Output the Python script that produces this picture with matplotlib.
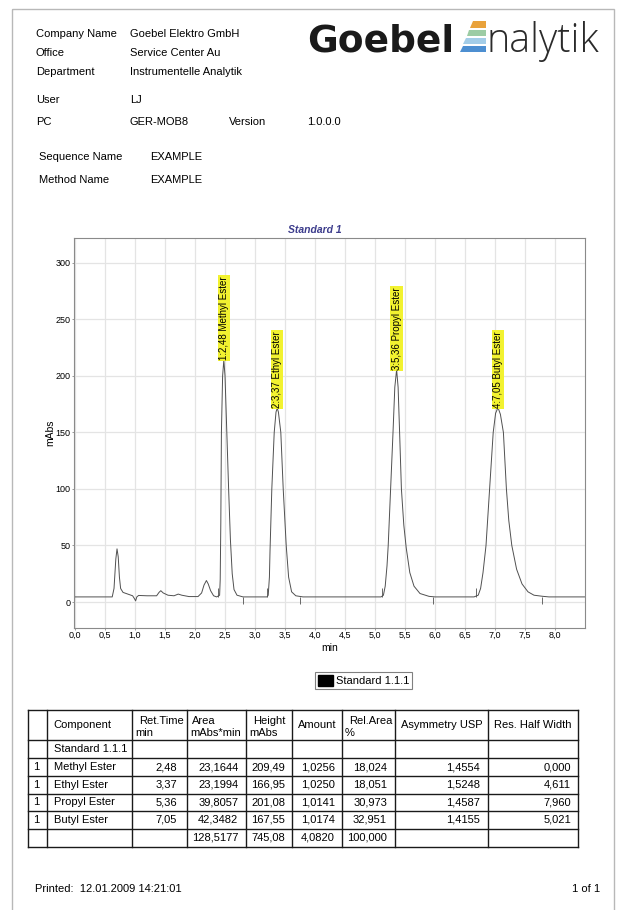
import matplotlib
matplotlib.use("Agg")
import matplotlib.pyplot as plt
from matplotlib.patches import Rectangle, Polygon, Patch
from matplotlib.ticker import FuncFormatter, FixedLocator
import numpy as np

plt.rcParams['font.family'] = ['Liberation Sans', 'DejaVu Sans']

# kopfdaten des reports
kopfLabels = ["Company Name", "Office", "Department", "User", "PC"]
kopfWerte = ["Goebel Elektro GmbH", "Service Center Au", "Instrumentelle Analytik", "LJ", "GER-MOB8"]
versionText = "1.0.0.0"
sequenzName = "EXAMPLE"
methodenName = "EXAMPLE"
chromTitel = "Standard 1"
probenName = "Standard 1.1.1"
gedrucktAm = "12.01.2009 14:21:01"

# chromatogramm, punkte (min, mAbs)
zeit = [0.00, 0.62, 0.65, 0.68, 0.70, 0.72, 0.74, 0.76, 0.80, 0.88, 0.96, 0.99, 1.01, 1.03, 1.06,
        1.20, 1.36, 1.40, 1.43, 1.47, 1.55, 1.65, 1.72, 1.78, 1.90, 2.05, 2.11, 2.15, 2.19, 2.22,
        2.26, 2.31, 2.36, 2.41, 2.42, 2.43, 2.44, 2.46, 2.48, 2.50, 2.53, 2.56, 2.59, 2.62, 2.65,
        2.70, 2.80, 3.20, 3.22, 3.24, 3.25, 3.28, 3.32, 3.35, 3.37, 3.39, 3.43, 3.47, 3.52, 3.56,
        3.61, 3.68, 3.80, 5.10, 5.14, 5.17, 5.20, 5.22, 5.26, 5.30, 5.33, 5.36, 5.385, 5.41, 5.44,
        5.48, 5.52, 5.58, 5.65, 5.75, 5.90, 6.00, 6.65, 6.72, 6.76, 6.80, 6.85, 6.91, 6.97, 7.01,
        7.05, 7.09, 7.14, 7.19, 7.23, 7.28, 7.36, 7.45, 7.55, 7.65, 7.80, 7.90, 8.50]
signal = [4.5, 4.5, 12, 38, 47, 40, 22, 12, 8.5, 7, 5.5, 3, 1, 4.5, 5.8,
          5.5, 5.5, 8.5, 10, 8, 6, 5.5, 7, 6, 4.8, 4.8, 8, 15, 19, 16,
          10, 5.5, 4.5, 6, 20, 70, 150, 200, 214, 200, 150, 100, 55, 25, 11,
          6, 4.5, 4.5, 6, 22, 45, 100, 150, 168, 171.5, 168, 150, 100, 50, 22,
          9, 5.5, 4.5, 4.5, 6, 14, 32, 50, 100, 150, 190, 205.6, 190, 150, 100,
          68, 48, 26, 14, 7.5, 5, 4.5, 4.5, 6, 12, 26, 50, 100, 150, 167,
          172, 166, 150, 100, 72, 50, 29, 16, 9, 6, 5, 4.5, 4.5]

# integrationsmarken
markeStart = [2.38, 3.20, 5.12, 6.68]
markeEnde = [2.80, 3.75, 5.97, 7.78]

# achsen
xTicks = [0.0, 0.5, 1.0, 1.5, 2.0, 2.5, 3.0, 3.5, 4.0, 4.5, 5.0, 5.5, 6.0, 6.5, 7.0, 7.5, 8.0]
yTicks = [0, 50, 100, 150, 200, 250, 300]

# peaktabelle
peakNr = [1, 1, 1, 1]
komponenten = ["Methyl Ester", "Ethyl Ester", "Propyl Ester", "Butyl Ester"]
retZeit = [2.48, 3.37, 5.36, 7.05]
flaeche = [23.1644, 23.1994, 39.8057, 42.3482]
hoehe = [209.49, 166.95, 201.08, 167.55]
menge = [1.0256, 1.0250, 1.0141, 1.0174]
relFlaeche = [18.024, 18.051, 30.973, 32.951]
asymmetrie = [1.4554, 1.5248, 1.4587, 1.4155]
halbwertBreite = [0.000, 4.611, 7.960, 5.021]
summeFlaeche = 128.5177
summeHoehe = 745.08
summeMenge = 4.0820
summeRel = 100.000


def komma(wert, stellen):
    return f"{wert:.{stellen}f}".replace('.', ',')


fig = plt.figure(figsize=(6.24, 9.10), dpi=100)

# seite in pixelkoordinaten
page = fig.add_axes([0, 0, 1, 1])
page.set_xlim(0, 624)
page.set_ylim(910, 0)
page.axis('off')
page.add_patch(Rectangle((12, 9), 602, 910, fill=False, ec='#b8b8b8', lw=1))

fs = 8
kopfY = [34, 53, 72, 100, 122]
for lab, wert, y in zip(kopfLabels, kopfWerte, kopfY):
    page.text(36, y, lab, fontsize=fs, va='center')
    page.text(130, y, wert, fontsize=fs, va='center')
page.text(229, 122, "Version", fontsize=fs, va='center')
page.text(307, 122, versionText, fontsize=fs, va='center')
page.text(39, 157, "Sequence Name", fontsize=fs, va='center')
page.text(150, 157, sequenzName, fontsize=fs, va='center')
page.text(39, 180, "Method Name", fontsize=fs, va='center')
page.text(150, 180, methodenName, fontsize=fs, va='center')

# logo
page.text(307, 52, "Goebel", fontsize=27, fontweight='bold', family='DejaVu Sans',
          color='#1a1a1a', va='baseline')
streifenFarben = ['#e9a23b', '#9ccca4', '#a3cde8', '#4d8fd1']
streifenY = [(21, 28), (30, 36), (38, 44), (46, 52)]
for farbe, (y0, y1) in zip(streifenFarben, streifenY):
    xl0 = 473 - (y0 - 21) * 13 / 31
    xl1 = 473 - (y1 - 21) * 13 / 31
    page.add_patch(Polygon([(xl0, y0), (486, y0), (486, y1), (xl1, y1)], closed=True,
                           fc=farbe, ec='none'))
page.text(487, 52, "nalytik", fontsize=28.5, fontweight='light', family='Open Sans',
          color='#2a2a2a', va='baseline')

# chromatogramm
ax = fig.add_axes([74 / 624, 1 - 628 / 910, 511 / 624, 390 / 910])
ax.plot(zeit, signal, color='#505050', lw=0.7)
ax.vlines(markeStart, 4.5, 12, color='#505050', lw=0.6)
ax.vlines(markeEnde, -2, 4.5, color='#505050', lw=0.6)
ax.set_xlim(-0.017, 8.5)
ax.set_ylim(-23, 322)
ax.xaxis.set_major_locator(FixedLocator(xTicks))
ax.yaxis.set_major_locator(FixedLocator(yTicks))
ax.xaxis.set_major_formatter(FuncFormatter(lambda v, p: komma(v, 1)))
ax.yaxis.set_major_formatter(FuncFormatter(lambda v, p: f"{v:.0f}"))
ax.grid(True, color='#e4e4e4', lw=0.9)
ax.set_axisbelow(True)
for s in ax.spines.values():
    s.set_color('#8a8a8a')
    s.set_linewidth(0.8)
ax.tick_params(axis='both', labelsize=6.5, length=1.5, width=0.6, color='#8a8a8a', pad=0.8)
ax.set_xlabel("min", fontsize=7.5, labelpad=2)
ax.set_ylabel("mAbs", fontsize=7.5)
ax.yaxis.set_label_coords(-0.037, 0.5)

zeitArr = np.array(zeit)
sigArr = np.array(signal)
for i, (rt, name) in enumerate(zip(retZeit, komponenten)):
    spitze = sigArr[np.abs(zeitArr - rt) < 0.03].max()
    ax.text(rt, spitze, f"{i + 1}:{komma(rt, 2)} {name}", rotation=90, ha='center', va='bottom',
            fontsize=7, bbox=dict(boxstyle='square,pad=0.12', fc='#f2f230', ec='none'))

fig.text(315 / 624, 1 - 230 / 910, chromTitel, fontsize=7.5, fontweight='bold', style='italic',
         color='#3c3c8c', ha='center', va='center')

leg = ax.legend(handles=[Patch(fc='black', ec='black', label=probenName)], loc='center',
                bbox_to_anchor=(363.5 / 624, 1 - 680.5 / 910), bbox_transform=fig.transFigure,
                fontsize=8, fancybox=False, edgecolor='#808080', framealpha=1,
                handlelength=1.35, handleheight=1.1, handletextpad=0.25, borderpad=0.25,
                borderaxespad=0)
leg.get_frame().set_linewidth(0.8)

# tabelle
spalten = [28, 47, 132, 187, 246, 292, 342, 395, 488, 578]
zeilen = [710, 740, 758, 776, 793.5, 811, 829, 846.5]
for x in spalten:
    page.plot([x, x], [zeilen[0], zeilen[-1]], color='#1a1a1a', lw=1)
for y in zeilen:
    page.plot([spalten[0], spalten[-1]], [y, y], color='#1a1a1a', lw=1)

h1, h2 = 720.5, 732.5
page.text(53, 725, "Component", fontsize=fs, va='center')
page.text(139, h1, "Ret.Time", fontsize=fs, va='center')
page.text(135, h2, "min", fontsize=fs, va='center')
page.text(192, h1, "Area", fontsize=fs, va='center')
page.text(190, h2, "mAbs*min", fontsize=fs, va='center')
page.text(253, h1, "Height", fontsize=fs, va='center')
page.text(249, h2, "mAbs", fontsize=fs, va='center')
page.text(317, 725, "Amount", fontsize=fs, va='center', ha='center')
page.text(349, h1, "Rel.Area", fontsize=fs, va='center')
page.text(345, h2, "%", fontsize=fs, va='center')
page.text(441.5, 725, "Asymmetry USP", fontsize=fs, va='center', ha='center')
page.text(533, 725, "Res. Half Width", fontsize=fs, va='center', ha='center')
page.text(54, 749, probenName, fontsize=fs, va='center')

rechts = [177, 238.5, 285, 335, 387, 480, 571]
for k in range(len(komponenten)):
    yc = (zeilen[k + 2] + zeilen[k + 3]) / 2
    page.text(33, yc, str(peakNr[k]), fontsize=fs, va='center')
    page.text(54, yc, komponenten[k], fontsize=fs, va='center')
    werte = [komma(retZeit[k], 2), komma(flaeche[k], 4), komma(hoehe[k], 2), komma(menge[k], 4),
             komma(relFlaeche[k], 3), komma(asymmetrie[k], 4), komma(halbwertBreite[k], 3)]
    for xr, w in zip(rechts, werte):
        page.text(xr, yc, w, fontsize=fs, va='center', ha='right')
ys = (zeilen[-2] + zeilen[-1]) / 2
for xr, w in zip(rechts[1:5], [komma(summeFlaeche, 4), komma(summeHoehe, 2),
                                komma(summeMenge, 4), komma(summeRel, 3)]):
    page.text(xr, ys, w, fontsize=fs, va='center', ha='right')

# fusszeile
page.text(35, 889, "Printed:  " + gedrucktAm, fontsize=fs, va='center')
page.text(600, 889, "1 of 1", fontsize=fs, va='center', ha='right')

fig.savefig("out.png", dpi=100)
